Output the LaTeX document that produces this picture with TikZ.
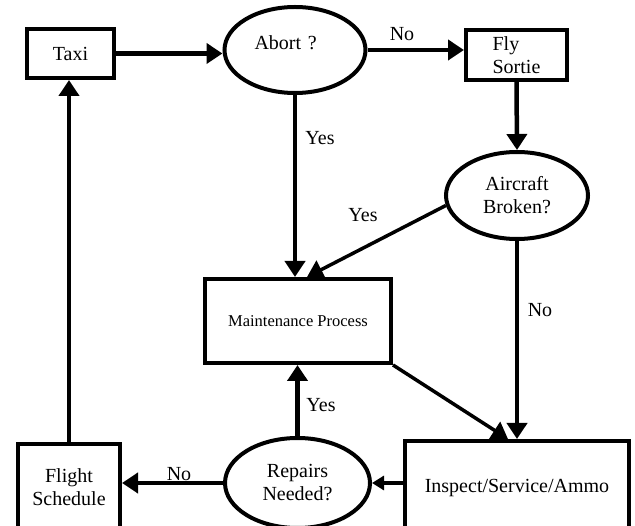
\documentclass[tikz,border=0pt]{standalone}
\usepackage{fontspec}
\setmainfont{Liberation Serif}
\usepackage{tikz}
\usetikzlibrary{positioning,shapes,arrows.meta}

\begin{document}
\begin{tikzpicture}[x=1pt,y=-1pt]%sortie loop
\useasboundingbox (0,0) rectangle (635,526);
\clip (0,0) rectangle (635,526);
\tikzstyle{every node}=[font=\fontsize{20}{23}\selectfont];
\tikzstyle{box}=[draw,shape=rectangle,line width=4pt,inner sep=2pt,align=center];
\tikzstyle{ask}=[draw,shape=ellipse,line width=4pt,inner sep=1pt,align=center];
\tikzstyle{flow}=[line width=4.5pt,-{Triangle[length=16pt,width=20pt]}];

\draw node[box,minimum width=87pt,minimum height=49pt] (taxi) at (70.5,53.5) {Taxi};
\draw node[ask,minimum width=141pt,minimum height=86pt,text width=81pt,align=left,text depth=14pt] (abort) at (295,50) {Abort ?};
\draw node[box,minimum width=101pt,minimum height=50pt,align=left] (fly) at (516.5,55) {Fly\\Sortie};
\draw node[ask,minimum width=142pt,minimum height=87pt] (broken) at (517,195.5) {Aircraft\\Broken?};
\draw node[box,minimum width=186pt,minimum height=84pt,font=\fontsize{16.5}{19}\selectfont] (maint) at (298,321) {Maintenance Process};
\draw node[box,minimum width=224pt,minimum height=94pt] (inspect) at (517,488) {Inspect/Service/Ammo};
\draw node[ask,minimum width=145pt,minimum height=90pt] (repairs) at (297.5,483) {Repairs\\Needed?};
\draw node[box,minimum width=102pt,minimum height=86pt] (sched) at (69,487) {Flight\\Schedule};

\draw node (noFly) at (402,34) {No};
\draw node (yesAbort) at (320,138) {Yes};
\draw node (yesBroken) at (363,215) {Yes};
\draw node (noBroken) at (540,310) {No};
\draw node (yesRepairs) at (321,405) {Yes};
\draw node (noRepairs) at (179,474) {No};

\draw[flow] (taxi.east) -- (taxi.east -| abort.west);
\draw[flow] (abort.east) -- (abort.east -| fly.west);
\draw[flow] (fly.south) -- (broken.north);
\draw[flow] (abort.south) -- (abort.south |- maint.north);
\draw[flow,line width=3.5pt] (broken.188) -- ([xshift=9pt]maint.north);
\draw[flow] (broken.south) -- (broken.south |- inspect.north);
\draw[flow,line width=3.5pt] (maint.south east) -- ([xshift=-9pt]inspect.north);
\draw[flow,-{Triangle[length=12pt,width=14pt]}] (repairs.east -| inspect.west) -- (repairs.east);
\draw[flow] (repairs.north) -- (repairs.north |- maint.south);
\draw[flow] (repairs.west) -- (repairs.west -| sched.east);
\draw[flow] (sched.north) -- (sched.north |- taxi.south);
\end{tikzpicture}
\end{document}
